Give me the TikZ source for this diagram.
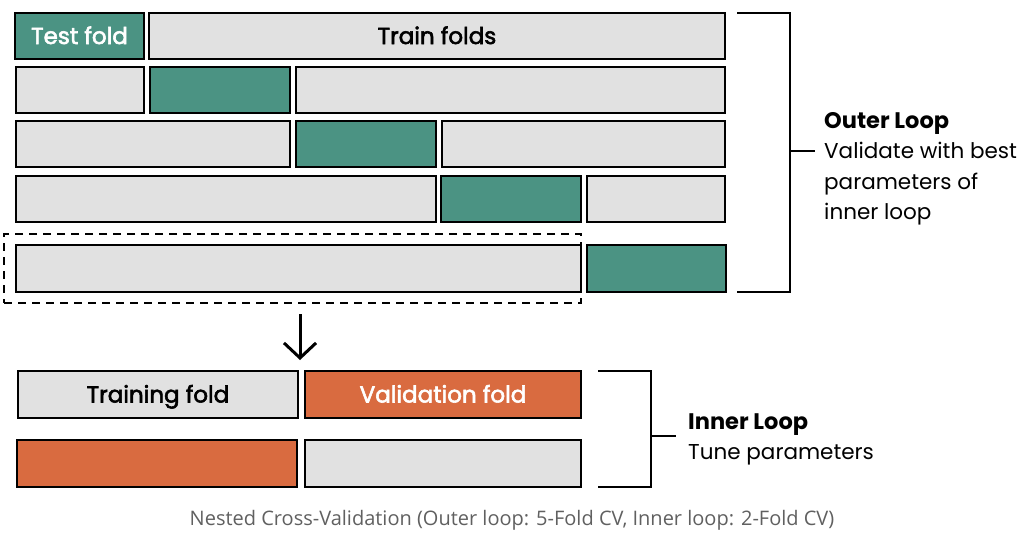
\documentclass[tikz,border=0pt]{standalone}
\usepackage{fontspec}
\setmainfont{Poppins}
\newfontfamily\medfont{Poppins}[FakeBold=2.5]
\newfontfamily\capfont{Open Sans}
\usetikzlibrary{arrows.meta}
\definecolor{teal}{HTML}{4B9383}
\definecolor{orng}{HTML}{D96B40}
\definecolor{lgrey}{HTML}{E1E1E1}
\definecolor{capgrey}{HTML}{606060}
\tikzset{
  fold/.style={draw=black, line width=2.8pt, inner sep=0pt, text height=16pt, text depth=0pt,
    font=\medfont\fontsize{23}{24}\selectfont},
  grey/.style={fold, fill=lgrey, text=black},
  test/.style={fold, fill=teal, text=white},
  val/.style={fold, fill=orng, text=white},
  brk/.style={line width=2.6pt},
  sel/.style={draw=black, dash pattern=on 8pt off 6pt, line width=2.6pt, inner sep=0pt},
  sidetext/.style={anchor=north west, align=left, inner sep=0pt, font=\fontsize{21.5}{30.5}\selectfont},
}
% #1 style, #2 name, #3 x1, #4 y1, #5 x2, #6 y2, #7 text
\newcommand\foldbox[7]{%
  \pgfmathsetmacro\fbcx{(#3+#5)/2}%
  \pgfmathsetmacro\fbcy{(#4+#6)/2}%
  \pgfmathsetmacro\fbw{#5-#3}%
  \pgfmathsetmacro\fbh{#6-#4}%
  \node[#1, minimum width=\fbw pt, minimum height=\fbh pt] (#2) at (\fbcx,\fbcy) {#7};%
}
\begin{document}
\begin{tikzpicture}[x=1pt,y=-1pt]
\useasboundingbox (0,0) rectangle (1024,542);
% outer row 1
\foldbox{test}{t1}{15}{13}{144}{59}{Test fold}
\foldbox{grey}{r1}{149}{13}{725}{59}{Train folds}
% row 2
\foldbox{grey}{a2}{16}{67}{144}{113}{}
\foldbox{test}{t2}{150}{67}{290}{113}{}
\foldbox{grey}{b2}{296}{67}{725}{113}{}
% row 3
\foldbox{grey}{a3}{16}{121}{290}{167}{}
\foldbox{test}{t3}{296}{121}{436}{167}{}
\foldbox{grey}{b3}{442}{121}{725}{167}{}
% row 4
\foldbox{grey}{a4}{16}{176}{436}{222}{}
\foldbox{test}{t4}{441}{176}{581}{222}{}
\foldbox{grey}{b4}{587}{176}{725}{222}{}
% row 5
\foldbox{grey}{a5}{16}{245}{581}{292}{}
\foldbox{test}{t5}{587}{245}{726}{292}{}
% dashed selection
\foldbox{sel}{selbox}{4}{234}{581}{303}{}
% inner rows
\foldbox{grey}{tr1}{18}{371}{298}{418}{Training fold}
\foldbox{val}{v1}{305}{371}{581}{418}{Validation fold}
\foldbox{val}{v2}{17}{440}{297}{487}{}
\foldbox{grey}{tr2}{305}{440}{581}{487}{}
% arrow
\coordinate (arrS) at (300,314);
\coordinate (arrE) at (300,360);
\draw[line width=3pt, -{Straight Barb[length=15pt,width=32pt,line width=3pt]}] (arrS) -- (arrE);
% outer bracket
\coordinate (ob1) at (737,13);
\coordinate (ob2) at (790,13);
\coordinate (ob3) at (790,292);
\coordinate (ob4) at (737,292);
\coordinate (obm) at (790,151);
\coordinate (obt) at (815,151);
\draw[brk] (ob1) -- (ob2) -- (ob3) -- (ob4);
\draw[brk] (obm) -- (obt);
\node[sidetext] (outer) at (824,112)
  {{\fontsize{22.5}{30.5}\selectfont\textbf{Outer Loop}}\\Validate with best\\parameters of\\inner loop};
% inner bracket
\coordinate (ib1) at (598,371);
\coordinate (ib2) at (651,371);
\coordinate (ib3) at (651,487);
\coordinate (ib4) at (598,487);
\coordinate (ibm) at (651,436);
\coordinate (ibt) at (676,436);
\draw[brk] (ib1) -- (ib2) -- (ib3) -- (ib4);
\draw[brk] (ibm) -- (ibt);
\node[sidetext] (inner) at (688,413)
  {{\fontsize{22.5}{30.5}\selectfont\textbf{Inner Loop}}\\Tune parameters};
% caption
\node[font=\capfont\fontsize{20}{22}\selectfont, text=capgrey] (cap) at (512,520)
  {Nested Cross-Validation (Outer loop: 5-Fold CV, Inner loop: 2-Fold CV)};
\end{tikzpicture}
\end{document}
